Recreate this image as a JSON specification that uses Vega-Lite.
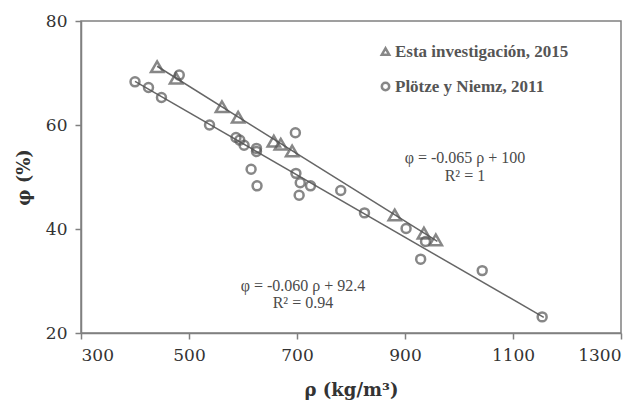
{
  "$schema": "https://vega.github.io/schema/vega-lite/v6.json",
  "width": 540,
  "height": 312,
  "autosize": {"type": "none"},
  "padding": {"left": 81, "top": 21, "right": 16, "bottom": 78},
  "background": "white",
  "config": {
    "view": {"stroke": "#808080", "strokeWidth": 1.5},
    "axis": {
      "domainColor": "#808080", "domainWidth": 1.5,
      "tickColor": "#808080", "tickWidth": 1.5, "tickSize": 6,
      "grid": false,
      "labelFont": "DejaVu Serif", "labelFontSize": 17, "labelColor": "#333333",
      "titleFont": "DejaVu Serif", "titleFontSize": 18, "titleColor": "#333333", "titleFontWeight": "bold"
    }
  },
  "datasets": {
    "points": [
      {"rho": 441, "phi": 71.2, "src": "Esta investigación, 2015"},
      {"rho": 476, "phi": 69.0, "src": "Esta investigación, 2015"},
      {"rho": 561, "phi": 63.5, "src": "Esta investigación, 2015"},
      {"rho": 591, "phi": 61.5, "src": "Esta investigación, 2015"},
      {"rho": 657, "phi": 56.9, "src": "Esta investigación, 2015"},
      {"rho": 670, "phi": 56.3, "src": "Esta investigación, 2015"},
      {"rho": 691, "phi": 55.0, "src": "Esta investigación, 2015"},
      {"rho": 881, "phi": 42.7, "src": "Esta investigación, 2015"},
      {"rho": 935, "phi": 39.2, "src": "Esta investigación, 2015"},
      {"rho": 957, "phi": 37.9, "src": "Esta investigación, 2015"},
      {"rho": 400, "phi": 68.3, "src": "Plötze y Niemz, 2011"},
      {"rho": 425, "phi": 67.2, "src": "Plötze y Niemz, 2011"},
      {"rho": 449, "phi": 65.3, "src": "Plötze y Niemz, 2011"},
      {"rho": 482, "phi": 69.6, "src": "Plötze y Niemz, 2011"},
      {"rho": 538, "phi": 60.0, "src": "Plötze y Niemz, 2011"},
      {"rho": 587, "phi": 57.6, "src": "Plötze y Niemz, 2011"},
      {"rho": 594, "phi": 57.1, "src": "Plötze y Niemz, 2011"},
      {"rho": 602, "phi": 56.1, "src": "Plötze y Niemz, 2011"},
      {"rho": 625, "phi": 55.5, "src": "Plötze y Niemz, 2011"},
      {"rho": 625, "phi": 54.9, "src": "Plötze y Niemz, 2011"},
      {"rho": 697, "phi": 58.5, "src": "Plötze y Niemz, 2011"},
      {"rho": 615, "phi": 51.5, "src": "Plötze y Niemz, 2011"},
      {"rho": 626, "phi": 48.3, "src": "Plötze y Niemz, 2011"},
      {"rho": 698, "phi": 50.7, "src": "Plötze y Niemz, 2011"},
      {"rho": 706, "phi": 48.9, "src": "Plötze y Niemz, 2011"},
      {"rho": 725, "phi": 48.3, "src": "Plötze y Niemz, 2011"},
      {"rho": 704, "phi": 46.5, "src": "Plötze y Niemz, 2011"},
      {"rho": 781, "phi": 47.4, "src": "Plötze y Niemz, 2011"},
      {"rho": 825, "phi": 43.1, "src": "Plötze y Niemz, 2011"},
      {"rho": 902, "phi": 40.1, "src": "Plötze y Niemz, 2011"},
      {"rho": 938, "phi": 37.6, "src": "Plötze y Niemz, 2011"},
      {"rho": 929, "phi": 34.2, "src": "Plötze y Niemz, 2011"},
      {"rho": 1043, "phi": 32.0, "src": "Plötze y Niemz, 2011"},
      {"rho": 1154, "phi": 23.1, "src": "Plötze y Niemz, 2011"}
    ],
    "fits": [
      {"rho": 441, "phi": 71.3, "grp": "a"},
      {"rho": 960, "phi": 37.6, "grp": "a"},
      {"rho": 400, "phi": 68.4, "grp": "b"},
      {"rho": 1157, "phi": 23.0, "grp": "b"}
    ],
    "notes": [
      {"rho": 1011, "phi": 53.6, "label": "φ = -0.065  ρ + 100"},
      {"rho": 1011, "phi": 50.2, "label": "R² = 1"},
      {"rho": 711, "phi": 29.1, "label": "φ = -0.060  ρ + 92.4"},
      {"rho": 711, "phi": 25.8, "label": "R² = 0.94"}
    ]
  },
  "layer": [
    {
      "data": {"name": "fits"},
      "mark": {"type": "line", "color": "#666666", "strokeWidth": 1.5},
      "encoding": {
        "x": {"field": "rho", "type": "quantitative", "scale": {"domain": [300, 1300], "nice": false},
              "axis": {"values": [300, 500, 700, 900, 1100, 1300], "format": "d", "labelPadding": 8, "titlePadding": 18},
              "title": "ρ (kg/m³)"},
        "y": {"field": "phi", "type": "quantitative", "scale": {"domain": [20, 80], "nice": false},
              "axis": {"values": [20, 40, 60, 80], "format": "d", "labelPadding": 8, "titlePadding": 12},
              "title": "φ (%)"},
        "detail": {"field": "grp"}
      }
    },
    {
      "data": {"name": "points"},
      "transform": [{"filter": "datum.src == 'Esta investigación, 2015'"}],
      "mark": {"type": "point", "filled": false, "color": "#555555", "strokeWidth": 2.5, "size": 150},
      "encoding": {
        "x": {"field": "rho", "type": "quantitative"},
        "y": {"field": "phi", "type": "quantitative"},
        "shape": {"field": "src", "type": "nominal",
                  "scale": {"domain": ["Esta investigación, 2015", "Plötze y Niemz, 2011"], "range": ["triangle-up", "circle"]},
                  "legend": {"orient": "none", "legendX": 296, "legendY": 22, "title": null,
                             "labelFont": "Liberation Serif", "labelFontSize": 17, "labelFontWeight": "bold", "labelColor": "#555555", "labelLimit": 300,
                             "symbolSize": 55, "symbolStrokeWidth": 2.5, "symbolStrokeColor": "#555555",
                             "symbolFillColor": "transparent", "rowPadding": 17, "labelOffset": 1}}
      }
    },
    {
      "data": {"name": "points"},
      "transform": [{"filter": "datum.src == 'Plötze y Niemz, 2011'"}],
      "mark": {"type": "point", "filled": false, "color": "#555555", "strokeWidth": 2.5, "size": 80},
      "encoding": {
        "x": {"field": "rho", "type": "quantitative"},
        "y": {"field": "phi", "type": "quantitative"},
        "shape": {"field": "src", "type": "nominal"}
      }
    },
    {
      "data": {"name": "notes"},
      "mark": {"type": "text", "font": "Liberation Serif", "fontSize": 16, "color": "#4a4a4a", "align": "center", "baseline": "middle"},
      "encoding": {
        "x": {"field": "rho", "type": "quantitative"},
        "y": {"field": "phi", "type": "quantitative"},
        "text": {"field": "label"}
      }
    }
  ]
}
